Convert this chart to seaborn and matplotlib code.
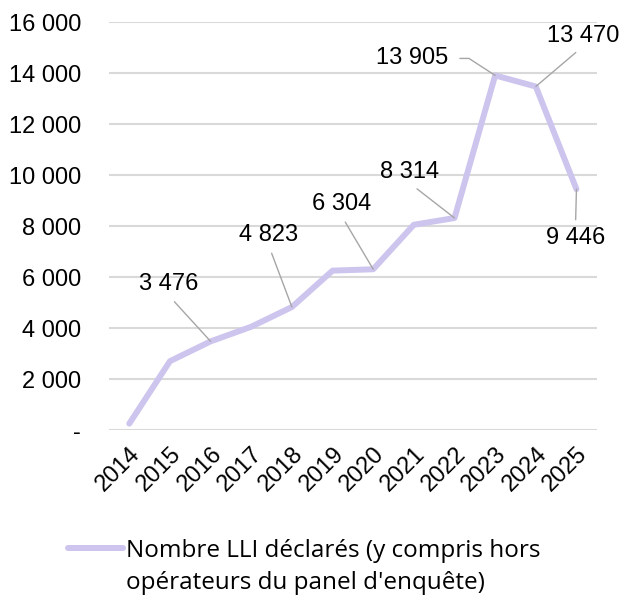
"""
Nombre de LLI déclarés par année (2014-2025), line chart with data labels.
"""

import matplotlib.pyplot as plt
import pandas as pd
import seaborn as sns
from matplotlib.lines import Line2D
from matplotlib.ticker import FuncFormatter

# ---------------------------------------------------------------------------
# Data
# ---------------------------------------------------------------------------
YEARS = ["2014", "2015", "2016", "2017", "2018", "2019",
         "2020", "2021", "2022", "2023", "2024", "2025"]
LLI_DECLARES = [250, 2700, 3476, 4050, 4823, 6250,
                6304, 8050, 8314, 13905, 13470, 9446]
Y_TICKS = [0, 2000, 4000, 6000, 8000, 10000, 12000, 14000, 16000]
SERIES_LINE1 = "Nombre LLI déclarés (y compris hors"
SERIES_LINE2 = "opérateurs du panel d'enquête)"

# which points carry a label: text offset (pixels) and where the leader starts
LABELS = {
    "2016": ((-42, 57), (0.5, 0.0), None),
    "2018": ((-23, 72), (0.5, 0.0), None),
    "2020": ((-32, 65), (0.5, 0.0), None),
    "2022": ((-45, 46), (0.5, 0.0), None),
    "2023": ((-83, 17), (1.0, 0.5), "angle,angleA=0,angleB=-33,rad=0"),
    "2024": ((47, 51), (0.5, 0.0), None),
    "2025": ((-1, -49), (0.5, 1.0), None),
}

LINE_COLOR = "#cdc5ee"
GRID_COLOR = "#d9d9d9"
LEADER_COLOR = "#a6a6a6"


def fmt_fr(v, _pos=None):
    if v == 0:
        return "-"
    return f"{v:,.0f}".replace(",", " ")


sns.set_theme(style="white")
plt.rcParams["font.family"] = ["Liberation Sans", "DejaVu Sans"]

df = pd.DataFrame({"annee": YEARS, "lli": LLI_DECLARES})

fig = plt.figure(figsize=(6.21, 5.95), dpi=100)
ax = fig.add_axes([0.1755, 0.2773, 0.7855, 0.6857])

sns.lineplot(data=df, x="annee", y="lli", color=LINE_COLOR, lw=4.3,
             ax=ax, legend=False)

ax.set_xlim(-0.5, len(YEARS) - 0.5)
ax.set_ylim(0, 16000)
ax.set_yticks(Y_TICKS)
ax.yaxis.set_major_formatter(FuncFormatter(fmt_fr))
ax.set_xlabel("")
ax.set_ylabel("")

ax.grid(axis="y", color=GRID_COLOR, lw=1.5)
ax.grid(axis="x", visible=False)
ax.set_axisbelow(True)
sns.despine(ax=ax, left=True, bottom=True)

ax.tick_params(axis="y", length=0, pad=20, labelsize=17, colors="black")
ax.tick_params(axis="x", length=0, pad=9, labelsize=17, colors="black")
for lab in ax.get_xticklabels():
    lab.set_rotation(45)
    lab.set_ha("right")
    lab.set_va("top")
    lab.set_rotation_mode("anchor")

# data labels with leader lines
for year, (offset, relpos, conn) in LABELS.items():
    i = YEARS.index(year)
    v = LLI_DECLARES[i]
    arrow = dict(arrowstyle="-", color=LEADER_COLOR, lw=1,
                 shrinkA=3, shrinkB=0, relpos=relpos)
    if conn:
        arrow["connectionstyle"] = conn
        arrow["shrinkA"] = 6
    ax.annotate(fmt_fr(v), xy=(i, v), xytext=offset,
                textcoords="offset pixels", ha="center", va="center",
                fontsize=17, color="black", arrowprops=arrow,
                annotation_clip=False)

# legend (handle aligned with the first line of the label)
legend_font = {"family": ["Open Sans", "DejaVu Sans"], "size": 17.5}
handle = Line2D([], [], color=LINE_COLOR, lw=4.3, solid_capstyle="round")
leg = fig.legend(handles=[handle], labels=[SERIES_LINE1],
                 loc="center left", bbox_to_anchor=(68 / 621, 1 - 551 / 595),
                 frameon=False, borderpad=0, borderaxespad=0,
                 handlelength=2.25, handletextpad=0.15, prop=legend_font)
for t in leg.get_texts():
    t.set_color("black")

fig.canvas.draw()
bb = leg.get_texts()[0].get_window_extent()
x0 = bb.x0 / fig.bbox.width
fig.text(x0, 1 - 583 / 595, SERIES_LINE2, ha="left", va="center",
         fontfamily=legend_font["family"], fontsize=legend_font["size"],
         color="black")

fig.savefig("out.png", dpi=100)
